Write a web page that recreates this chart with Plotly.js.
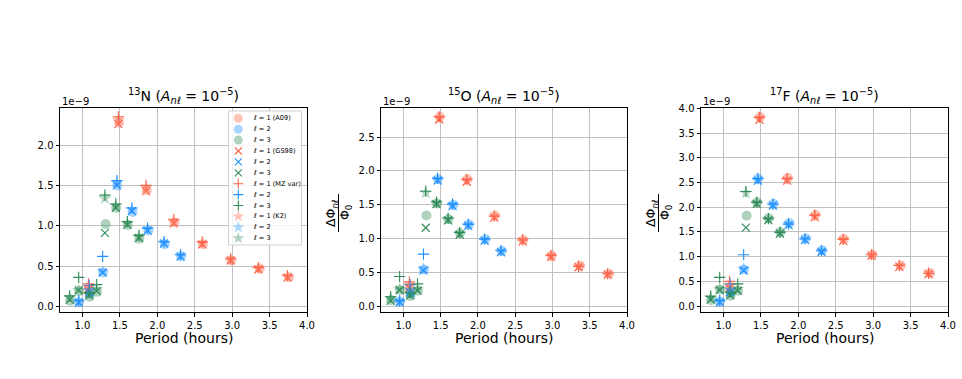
<!DOCTYPE html>
<html><head><meta charset="utf-8">
<script src="https://cdn.plot.ly/plotly-3.0.1.min.js"></script>
<style>html,body{margin:0;padding:0;background:#fff;} #chart{width:962px;height:379px;}</style>
</head><body><div id="chart"></div>
<script>
// ---- mode periods (hours) ----
const per_l1 = [1.08, 1.48, 1.85, 2.22, 2.60, 2.98, 3.35, 3.74];
const per_l1_A09 = [1.085, 1.49, 1.86, 2.23, 2.61, 2.99, 3.37, 3.76];
const per_l2 = [0.95, 1.09, 1.27, 1.46, 1.66, 1.87, 2.09, 2.31];
const per_l2_A09 = [0.955, 1.095, 1.275, 1.465, 1.67, 1.88, 2.10, 2.32];
const per_l3 = [0.83, 0.95, 1.09, 1.19, 1.30, 1.445, 1.60, 1.755];
const per_l3_A09 = [0.835, 0.955, 1.095, 1.195, 1.31, 1.45, 1.605, 1.76];

// ---- 13N values (x 1e-9) ----
const n13_A09_l1 = [0.22, 2.28, 1.44, 1.04, 0.77, 0.57, 0.47, 0.36];
const n13_GS98_l1 = [0.20, 2.26, 1.43, 1.03, 0.77, 0.57, 0.46, 0.36];
const n13_MZ_l1 = [0.28, 2.35, 1.50, 1.08, 0.80, 0.59, 0.48, 0.38];
const n13_K2_l1 = [0.24, 2.31, 1.47, 1.05, 0.78, 0.58, 0.47, 0.37];
const n13_A09_l2 = [0.05, 0.16, 0.42, 1.50, 1.17, 0.94, 0.77, 0.62];
const n13_GS98_l2 = [0.05, 0.17, 0.42, 1.50, 1.18, 0.94, 0.78, 0.62];
const n13_MZ_l2 = [0.07, 0.26, 0.62, 1.56, 1.22, 0.97, 0.80, 0.64];
const n13_K2_l2 = [0.06, 0.20, 0.43, 1.53, 1.20, 0.96, 0.79, 0.63];
const n13_A09_l3 = [0.07, 0.19, 0.12, 0.18, 1.02, 1.22, 1.01, 0.84];
const n13_GS98_l3 = [0.08, 0.20, 0.14, 0.19, 0.91, 1.22, 1.01, 0.85];
const n13_MZ_l3 = [0.13, 0.36, 0.17, 0.27, 1.38, 1.27, 1.05, 0.88];
const n13_K2_l3 = [0.11, 0.20, 0.15, 0.21, 1.34, 1.25, 1.03, 0.86];

// ---- 15O values (x 1e-9) ----
const o15_A09_l1 = [0.28, 2.80, 1.88, 1.34, 0.98, 0.75, 0.60, 0.48];
const o15_GS98_l1 = [0.27, 2.76, 1.84, 1.31, 0.96, 0.73, 0.58, 0.47];
const o15_MZ_l1 = [0.36, 2.80, 1.87, 1.33, 0.98, 0.75, 0.59, 0.48];
const o15_K2_l1 = [0.31, 2.78, 1.86, 1.32, 0.97, 0.74, 0.59, 0.47];
const o15_A09_l2 = [0.07, 0.19, 0.54, 1.88, 1.50, 1.21, 0.99, 0.82];
const o15_GS98_l2 = [0.06, 0.20, 0.53, 1.86, 1.48, 1.19, 0.97, 0.80];
const o15_MZ_l2 = [0.08, 0.32, 0.77, 1.89, 1.51, 1.21, 0.99, 0.82];
const o15_K2_l2 = [0.07, 0.24, 0.55, 1.87, 1.50, 1.20, 0.98, 0.81];
const o15_A09_l3 = [0.09, 0.24, 0.15, 0.23, 1.34, 1.52, 1.29, 1.08];
const o15_GS98_l3 = [0.08, 0.24, 0.16, 0.23, 1.16, 1.51, 1.27, 1.06];
const o15_MZ_l3 = [0.14, 0.44, 0.20, 0.33, 1.70, 1.54, 1.30, 1.09];
const o15_K2_l3 = [0.12, 0.25, 0.18, 0.25, 1.68, 1.53, 1.29, 1.08];

// ---- 17F values (x 1e-9) ----
const f17_A09_l1 = [0.38, 3.83, 2.60, 1.85, 1.36, 1.04, 0.82, 0.67];
const f17_GS98_l1 = [0.36, 3.77, 2.54, 1.80, 1.32, 1.02, 0.80, 0.65];
const f17_MZ_l1 = [0.50, 3.82, 2.58, 1.84, 1.35, 1.04, 0.82, 0.66];
const f17_K2_l1 = [0.42, 3.80, 2.56, 1.82, 1.34, 1.03, 0.81, 0.66];
const f17_A09_l2 = [0.09, 0.28, 0.74, 2.58, 2.07, 1.68, 1.37, 1.13];
const f17_GS98_l2 = [0.08, 0.28, 0.72, 2.54, 2.04, 1.64, 1.34, 1.10];
const f17_MZ_l2 = [0.11, 0.45, 1.04, 2.58, 2.06, 1.66, 1.36, 1.12];
const f17_K2_l2 = [0.10, 0.33, 0.75, 2.56, 2.05, 1.66, 1.35, 1.11];
const f17_A09_l3 = [0.12, 0.33, 0.21, 0.31, 1.83, 2.10, 1.78, 1.50];
const f17_GS98_l3 = [0.13, 0.33, 0.22, 0.31, 1.59, 2.07, 1.74, 1.47];
const f17_MZ_l3 = [0.20, 0.58, 0.28, 0.45, 2.32, 2.10, 1.77, 1.49];
const f17_K2_l3 = [0.17, 0.34, 0.25, 0.34, 2.29, 2.09, 1.76, 1.48];

// ---- labels ----
const panelTitles = ['<sup>13</sup>N (<i>A<sub>nℓ</sub></i> = 10<sup>−5</sup>)',
                     '<sup>15</sup>O (<i>A<sub>nℓ</sub></i> = 10<sup>−5</sup>)',
                     '<sup>17</sup>F (<i>A<sub>nℓ</sub></i> = 10<sup>−5</sup>)'];
const legendLabels = ['<i>ℓ</i> = 1 (A09)', '<i>ℓ</i> = 2', '<i>ℓ</i> = 3',
                      '<i>ℓ</i> = 1 (GS98)', '<i>ℓ</i> = 2', '<i>ℓ</i> = 3',
                      '<i>ℓ</i> = 1 (MZ var)', '<i>ℓ</i> = 2', '<i>ℓ</i> = 3',
                      '<i>ℓ</i> = 1 (K2)', '<i>ℓ</i> = 2', '<i>ℓ</i> = 3'];
const xTickVals = [1.0, 1.5, 2.0, 2.5, 3.0, 3.5, 4.0];

// ---- styling ----
const W = 962, H = 379;
const colors = ['#ff6347', '#1e90ff', '#2e8b57'];
const models = ['A09', 'GS98', 'MZ', 'K2'];
function markerFor(model, c) {
  if (model === 'A09') return {symbol: 'circle', size: 10, color: c, opacity: 0.38, line: {width: 0}};
  if (model === 'GS98') return {symbol: 'x-thin', size: 8, color: c, line: {color: c, width: 1.1}};
  if (model === 'MZ') return {symbol: 'cross-thin', size: 8, color: c, line: {color: c, width: 1.1}};
  return {symbol: 'star', size: 10, color: c, opacity: 0.38, line: {width: 0}};
}
const perFor = {
  A09: [per_l1_A09, per_l2_A09, per_l3_A09],
  GS98: [per_l1, per_l2, per_l3], MZ: [per_l1, per_l2, per_l3], K2: [per_l1, per_l2, per_l3]
};
const panelVals = [
  {A09: [n13_A09_l1, n13_A09_l2, n13_A09_l3], GS98: [n13_GS98_l1, n13_GS98_l2, n13_GS98_l3],
   MZ: [n13_MZ_l1, n13_MZ_l2, n13_MZ_l3], K2: [n13_K2_l1, n13_K2_l2, n13_K2_l3]},
  {A09: [o15_A09_l1, o15_A09_l2, o15_A09_l3], GS98: [o15_GS98_l1, o15_GS98_l2, o15_GS98_l3],
   MZ: [o15_MZ_l1, o15_MZ_l2, o15_MZ_l3], K2: [o15_K2_l1, o15_K2_l2, o15_K2_l3]},
  {A09: [f17_A09_l1, f17_A09_l2, f17_A09_l3], GS98: [f17_GS98_l1, f17_GS98_l2, f17_GS98_l3],
   MZ: [f17_MZ_l1, f17_MZ_l2, f17_MZ_l3], K2: [f17_K2_l1, f17_K2_l2, f17_K2_l3]}
];
// plot-area pixel boxes
const boxes = [[60, 307], [381, 627], [701, 948]];
const yTop = 108, yBot = 312;
const xRange = [0.7, 4.0];
const yRanges = [[-0.07, 2.46], [-0.085, 2.93], [-0.12, 4.01]];

const px = v => v / W, py = v => 1 - v / H;
const font = 'DejaVu Sans, Liberation Sans, sans-serif';

const traces = [];
const layout = {
  width: W, height: H, margin: {l: 0, r: 0, t: 0, b: 0},
  paper_bgcolor: '#fff', plot_bgcolor: '#fff', showlegend: false,
  font: {family: font, color: '#000', size: 10},
  annotations: [], shapes: []
};

panelVals.forEach((pv, i) => {
  const ax = i === 0 ? '' : String(i + 1);
  models.forEach(m => {
    [0, 1, 2].forEach(l => {
      traces.push({
        type: 'scatter', mode: 'markers', x: perFor[m][l], y: pv[m][l],
        xaxis: 'x' + ax, yaxis: 'y' + ax, marker: markerFor(m, colors[l]),
        hoverinfo: 'x+y', cliponaxis: false
      });
    });
  });
  const common = {
    showline: true, mirror: true, linecolor: '#000', linewidth: 1,
    ticks: 'outside', ticklen: 3.5, tickwidth: 1, tickcolor: '#000',
    showgrid: true, gridcolor: '#c0c0c0', gridwidth: 1, zeroline: false,
    tickfont: {family: font, size: 10, color: '#000'}, fixedrange: true
  };
  layout['xaxis' + ax] = Object.assign({}, common, {
    domain: [px(boxes[i][0]), px(boxes[i][1])], range: xRange,
    tickvals: xTickVals, tickformat: '.1f', anchor: 'y' + ax
  });
  layout['yaxis' + ax] = Object.assign({}, common, {
    domain: [py(yBot), py(yTop)], range: yRanges[i], dtick: 0.5, tick0: 0,
    tickformat: '.1f', anchor: 'x' + ax
  });
  const cx = (boxes[i][0] + boxes[i][1]) / 2;
  layout.annotations.push({
    xref: 'paper', yref: 'paper', x: px(cx), y: py(96), xanchor: 'center', yanchor: 'middle',
    text: panelTitles[i], showarrow: false, font: {family: font, size: 14, color: '#000'}
  });
  layout.annotations.push({
    xref: 'paper', yref: 'paper', x: px(boxes[i][0]), y: py(101), xanchor: 'left', yanchor: 'middle',
    text: '1e−9', showarrow: false, font: {family: font, size: 10, color: '#000'}
  });
  layout.annotations.push({
    xref: 'paper', yref: 'paper', x: px(cx), y: py(338), xanchor: 'center', yanchor: 'middle',
    text: 'Period (hours)', showarrow: false, font: {family: font, size: 14, color: '#000'}
  });
  if (i > 0) {
    const lx = boxes[i][0] - 50;
    layout.annotations.push({
      xref: 'paper', yref: 'paper', x: px(lx), y: py(213), xanchor: 'center', yanchor: 'middle',
      text: 'ΔΦ<sub><i>nℓ</i></sub>', textangle: -90, showarrow: false,
      font: {family: font, size: 12.5, color: '#000'}
    });
    layout.annotations.push({
      xref: 'paper', yref: 'paper', x: px(lx + 14), y: py(213), xanchor: 'center', yanchor: 'middle',
      text: 'Φ<sub>0</sub>', textangle: -90, showarrow: false,
      font: {family: font, size: 12.5, color: '#000'}
    });
    layout.shapes.push({
      type: 'line', xref: 'paper', yref: 'paper', x0: px(lx + 7.5), x1: px(lx + 7.5),
      y0: py(194), y1: py(232), line: {color: '#000', width: 1}
    });
  }
});

// ---- manual legend in panel 1 (overlay axis in pixel units) ----
const p2dx = v => xRange[0] + (v - boxes[0][0]) / (boxes[0][1] - boxes[0][0]) * (xRange[1] - xRange[0]);
const p2dy = v => yRanges[0][1] - (v - yTop) / (yBot - yTop) * (yRanges[0][1] - yRanges[0][0]);
layout.xaxis4 = {overlaying: 'x', range: [60, 307], visible: false, fixedrange: true, anchor: 'y4'};
layout.yaxis4 = {overlaying: 'y', range: [312, 108], visible: false, fixedrange: true, anchor: 'x4'};
layout.shapes.push({
  type: 'rect', xref: 'x', yref: 'y', x0: p2dx(228.5), x1: p2dx(301.5), y0: p2dy(111), y1: p2dy(245),
  fillcolor: 'rgba(255,255,255,0.8)', line: {color: '#d0d0d0', width: 1}, layer: 'between'
});
legendLabels.forEach((lab, k) => {
  const m = models[Math.floor(k / 3)], l = k % 3;
  const yy = 118.3 + k * 10.9;
  const mk = markerFor(m, colors[l]);
  mk.size = Math.round(mk.size * 0.9);
  traces.push({
    type: 'scatter', mode: 'markers', x: [238.3], y: [yy], xaxis: 'x4', yaxis: 'y4',
    marker: mk, hoverinfo: 'skip', cliponaxis: false
  });
  layout.annotations.push({
    xref: 'paper', yref: 'paper', x: px(250.5), y: py(yy), xanchor: 'left', yanchor: 'middle',
    text: lab, showarrow: false, font: {family: font, size: 6.6, color: '#000'}
  });
});

// ---- caption fragment cut by the bottom edge ----
layout.annotations.push({
  xref: 'paper', yref: 'paper', x: px(566), y: py(376), xanchor: 'left', yanchor: 'top',
  text: '<sup>13</sup>N, <sup>15</sup>O, and <sup>17</sup>F', showarrow: false,
  font: {family: font, size: 15, color: '#000'}
});

Plotly.newPlot('chart', traces, layout, {staticPlot: true, displayModeBar: false});
</script></body></html>
